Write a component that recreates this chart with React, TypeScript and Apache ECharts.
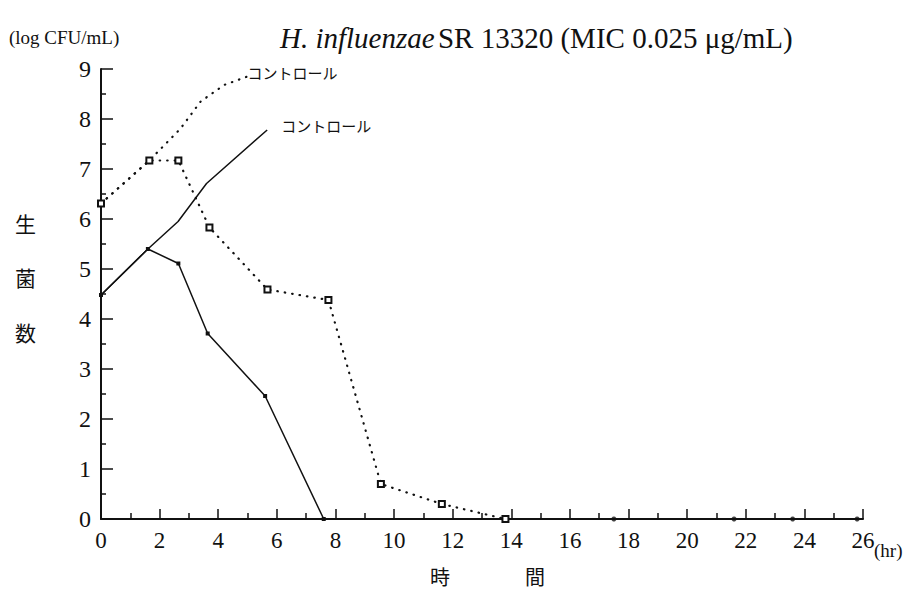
import React, { useEffect, useRef } from "react";
import * as echarts from "echarts";

// Time (hr) and viable count (log CFU/mL) for each curve
const dottedTreatedX = [0, 1.65, 2.64, 3.7, 5.68, 7.76, 9.55, 11.63, 13.8];
const dottedTreatedY = [6.31, 7.17, 7.17, 5.83, 4.59, 4.38, 0.7, 0.3, 0];

const dottedControlX = [0, 1.65, 2.7, 3.4, 4.2, 5.0];
const dottedControlY = [6.31, 7.17, 7.8, 8.35, 8.68, 8.85];

const solidTreatedX = [0, 1.6, 2.64, 3.64, 5.6, 7.6];
const solidTreatedY = [4.48, 5.4, 5.11, 3.71, 2.46, 0];

const solidControlX = [0, 1.6, 2.63, 3.6, 5.67];
const solidControlY = [4.48, 5.4, 5.95, 6.71, 7.78];

// Points below detection limit along the baseline
const baselineX = [17.5, 21.6, 23.6, 25.8];
const baselineY = [0, 0, 0, 0];

const xTicks = [0, 2, 4, 6, 8, 10, 12, 14, 16, 18, 20, 22, 24, 26];
const yTicks = [0, 1, 2, 3, 4, 5, 6, 7, 8, 9];

const controlLabel = "コントロール";
const titleItalic = "H. influenzae";
const titleRest = "SR 13320 (MIC 0.025 μg/mL)";
const yUnit = "(log CFU/mL)";
const yName = ["生", "菌", "数"];
const xName = ["時", "間"];
const xUnit = "(hr)";

const zip = (xs: number[], ys: number[]) => xs.map((x, i) => [x, ys[i]]);

const SERIF = "serif";
const CJK = "Noto Sans CJK JP";

export default function App() {
  const ref = useRef<HTMLDivElement>(null);

  useEffect(() => {
    if (!ref.current) return;
    const chart = echarts.init(ref.current, undefined, { renderer: "svg" });

    const dotted = { color: "#111", width: 2.2, type: [0.5, 7] as number[], cap: "round" as const };
    const solid = { color: "#111", width: 1.5, type: "solid" as const };

    chart.setOption({
      animation: false,
      backgroundColor: "#fff",
      textStyle: { fontFamily: SERIF },
      grid: { left: 101, top: 69, right: 57, bottom: 75 },
      xAxis: {
        type: "value",
        min: xTicks[0],
        max: xTicks[xTicks.length - 1],
        interval: 2,
        axisLine: { lineStyle: { color: "#111", width: 2 } },
        axisTick: { inside: true, length: 10, lineStyle: { color: "#111", width: 1.5 } },
        minorTick: { show: true, splitNumber: 2, length: 6, lineStyle: { color: "#111", width: 1.5 } },
        splitLine: { show: false },
        axisLabel: {
          margin: 10,
          color: "#111",
          fontFamily: SERIF,
          fontSize: 23,
          formatter: (v: number) => (xTicks.includes(v) ? String(v) : ""),
        },
      },
      yAxis: {
        type: "value",
        min: yTicks[0],
        max: yTicks[yTicks.length - 1],
        interval: 1,
        axisLine: { lineStyle: { color: "#111", width: 2 } },
        axisTick: { inside: true, length: 12, lineStyle: { color: "#111", width: 1.5 } },
        minorTick: { show: true, splitNumber: 2, length: 5, lineStyle: { color: "#111", width: 1.5 } },
        splitLine: { show: false },
        axisLabel: {
          margin: 10,
          color: "#111",
          fontFamily: SERIF,
          fontSize: 24,
          formatter: (v: number) => (yTicks.includes(v) ? String(v) : ""),
        },
      },
      series: [
        {
          type: "line",
          data: zip(dottedControlX, dottedControlY),
          lineStyle: dotted,
          symbol: "none",
          endLabel: {
            show: true,
            formatter: controlLabel,
            fontFamily: CJK,
            fontSize: 15,
            color: "#111",
            distance: 0,
            offset: [0, -4],
          },
          z: 3,
        },
        {
          type: "line",
          data: zip(dottedTreatedX, dottedTreatedY),
          lineStyle: dotted,
          symbol: "emptyRect",
          symbolSize: 6,
          showAllSymbol: true,
          itemStyle: { color: "#111", borderWidth: 1.5 },
          z: 4,
        },
        {
          type: "line",
          data: zip(solidControlX, solidControlY),
          lineStyle: solid,
          symbol: "none",
          endLabel: {
            show: true,
            formatter: controlLabel,
            fontFamily: CJK,
            fontSize: 15,
            color: "#111",
            distance: 14,
            offset: [0, -5],
          },
          z: 3,
        },
        {
          type: "line",
          data: zip(solidTreatedX, solidTreatedY),
          lineStyle: solid,
          symbol: "rect",
          symbolSize: 4,
          showAllSymbol: true,
          itemStyle: { color: "#111" },
          z: 4,
        },
        {
          type: "scatter",
          data: zip(baselineX, baselineY),
          symbol: "circle",
          symbolSize: 5,
          itemStyle: { color: "#111" },
          z: 5,
        },
      ],
      graphic: [
        {
          type: "text",
          left: 280,
          top: 23,
          style: {
            text: `{i|${titleItalic}} {n|${titleRest}}`,
            fill: "#111",
            rich: {
              i: { fontFamily: SERIF, fontStyle: "italic", fontSize: 29, fill: "#111" },
              n: { fontFamily: SERIF, fontSize: 29, fill: "#111" },
            },
          },
        },
        {
          type: "text",
          left: 9,
          top: 28,
          style: { text: yUnit, font: `19px ${SERIF}`, fill: "#111" },
        },
        ...yName.map((ch, i) => ({
          type: "text",
          left: 15,
          top: [212, 266, 321][i],
          style: { text: ch, font: `21px ${CJK}`, fill: "#111" },
        })),
        ...xName.map((ch, i) => ({
          type: "text",
          left: [430, 525][i],
          top: 566,
          style: { text: ch, font: `20px ${CJK}`, fill: "#111" },
        })),
        {
          type: "text",
          left: 874,
          top: 541,
          style: { text: xUnit, font: `19px ${SERIF}`, fill: "#111" },
        },
      ],
    });

    return () => chart.dispose();
  }, []);

  return (
    <div
      ref={ref}
      style={{ position: "fixed", left: 0, top: 0, width: 920, height: 594, background: "#fff" }}
    />
  );
}
